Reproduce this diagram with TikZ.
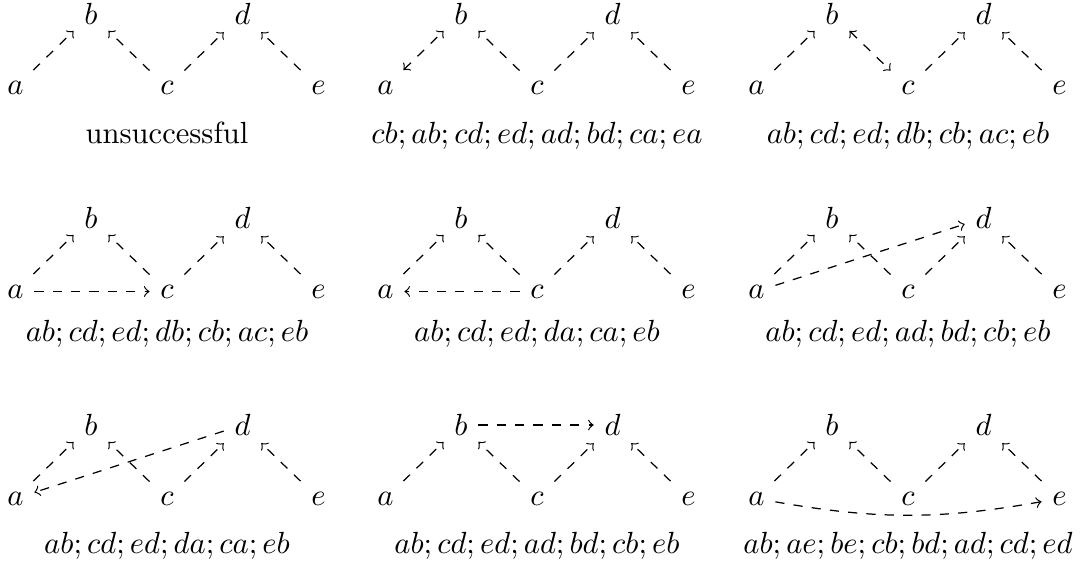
\documentclass[tikz,border=0pt]{standalone}
\usepackage{amsmath}
\usepackage{amssymb}
\usepackage{tikz}

% one panel: the five vertices and the line of text under them
\newcommand{\drawpanel}[5]{%
  \begin{scope}[shift={(#2,#3)}]
    \node (a#1) at (15.5,87.5)  {$a$};
    \node (b#1) at (91,14)      {$b$};
    \node (c#1) at (167,87.5)   {$c$};
    \node (d#1) at (242.5,14)   {$d$};
    \node (e#1) at (318.5,87.5) {$e$};
    \node[anchor=base] (t#1) at (167,#4) {#5};
  \end{scope}
}

\begin{document}
\begin{tikzpicture}[->,dashed,x=0.3268pt,y=-0.3268pt]
  \useasboundingbox (0,0) rectangle (1081,567);

  \drawpanel{1}{0}{0}{144}{unsuccessful}
  \drawpanel{2}{370}{0}{144}{$cb;ab;cd;ed;ad;bd;ca;ea$}
  \drawpanel{3}{741}{0}{144}{$ab;cd;ed;db;cb;ac;eb$}
  \drawpanel{4}{0}{204}{138}{$ab;cd;ed;db;cb;ac;eb$}
  \drawpanel{5}{370}{204}{138}{$ab;cd;ed;da;ca;eb$}
  \drawpanel{6}{741}{204}{138}{$ab;cd;ed;ad;bd;cb;eb$}
  \drawpanel{7}{0}{411}{143}{$ab;cd;ed;da;ca;eb$}
  \drawpanel{8}{370}{411}{143}{$ab;cd;ed;ad;bd;cb;eb$}
  \drawpanel{9}{741}{411}{143}{$ab;ae;be;cb;bd;ad;cd;ed$}

  \path (a1) edge              (b1)
        (c1) edge              (b1)
             edge              (d1)
        (e1) edge              (d1)
        (a2) edge [<->]        (b2)
        (c2) edge              (b2)
             edge              (d2)
        (e2) edge              (d2)
        (a3) edge              (b3)
        (b3) edge [<->]        (c3)
        (c3) edge              (d3)
        (e3) edge              (d3)
        (a4) edge              (b4)
             edge              (c4)
        (c4) edge              (b4)
             edge              (d4)
        (e4) edge              (d4)
        (a5) edge              (b5)
        (c5) edge              (b5)
             edge              (d5)
             edge              (a5)
        (e5) edge              (d5)
        (a6) edge              (b6)
             edge              (d6)
        (c6) edge              (b6)
             edge              (d6)
        (e6) edge              (d6)
        (a7) edge              (b7)
        (c7) edge              (b7)
             edge              (d7)
        (d7) edge              (a7)
        (e7) edge              (d7)
        (a8) edge              (b8)
        (b8) edge              (d8)
        (c8) edge              (b8)
             edge              (d8)
        (e8) edge              (d8)
        (a9) edge              (b9)
             edge [bend right=10] (e9)
        (c9) edge              (b9)
             edge              (d9)
        (e9) edge              (d9);

\end{tikzpicture}
\end{document}
